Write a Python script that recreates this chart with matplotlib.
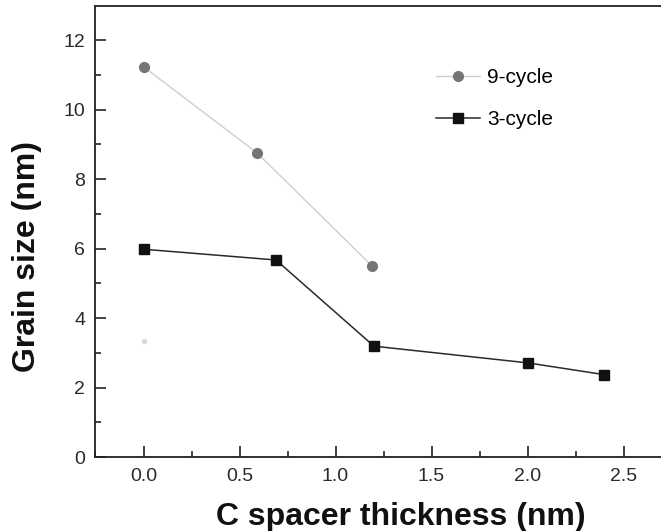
import matplotlib.pyplot as plt
from matplotlib.ticker import MultipleLocator

plt.rcParams['font.family'] = ['Liberation Sans', 'DejaVu Sans']

# data
x_9cycle = [0.0, 0.59, 1.19]
y_9cycle = [11.23, 8.76, 5.5]
x_3cycle = [0.0, 0.69, 1.2, 2.0, 2.4]
y_3cycle = [5.98, 5.67, 3.19, 2.71, 2.37]
x_faint = [0.0]
y_faint = [3.35]

fig = plt.figure(figsize=(6.61, 5.31), dpi=100)
ax = fig.add_axes([95 / 661, 1 - 457 / 531, 566 / 661, 451 / 531])

ax.plot(x_9cycle, y_9cycle, color='#cfcfcf', lw=1.0, marker='o', ms=7,
        mfc='#757575', mec='#757575', label='9-cycle')
ax.plot(x_3cycle, y_3cycle, color='#2a2a2a', lw=1.1, marker='s', ms=6.5,
        mfc='#111111', mec='#111111', label='3-cycle')
ax.plot(x_faint, y_faint, ls='none', marker='o', ms=3, mfc='#dadada', mec='#dadada')

ax.set_xlim(-0.2526, 2.695)
ax.set_ylim(0, 12.98)
ax.xaxis.set_major_locator(MultipleLocator(0.5))
ax.xaxis.set_minor_locator(MultipleLocator(0.25))
ax.yaxis.set_major_locator(MultipleLocator(2))
ax.yaxis.set_minor_locator(MultipleLocator(1))
ax.xaxis.set_major_formatter(plt.FormatStrFormatter('%.1f'))

ax.tick_params(which='both', direction='in', labelsize=14, width=1.2,
               color='#222222', labelcolor='#2a2a2a')
ax.tick_params(which='major', length=8)
ax.tick_params(which='minor', length=4.5)
ax.tick_params(axis='x', pad=8)
ax.tick_params(axis='y', pad=7)
for s in ['left', 'bottom', 'top']:
    ax.spines[s].set_linewidth(1.3)
    ax.spines[s].set_color('#222222')
ax.spines['right'].set_visible(False)

ax.set_xlabel('C spacer thickness (nm)', fontsize=23, fontweight='bold', color='#111111')
ax.set_ylabel('Grain size (nm)', fontsize=23, fontweight='bold', color='#111111')
ax.xaxis.set_label_coords((401 - 95) / 566, (457 - 502) / 451)
ax.yaxis.set_label_coords((42 - 95) / 566, (457 - 257) / 451)

ax.legend(loc='upper left', bbox_to_anchor=((436 - 95) / 566, (457 - 68) / 451),
          frameon=False, fontsize=15, borderpad=0, borderaxespad=0,
          handlelength=2.1, labelspacing=1.1, handletextpad=0.35)

fig.savefig('out.png', dpi=100)
